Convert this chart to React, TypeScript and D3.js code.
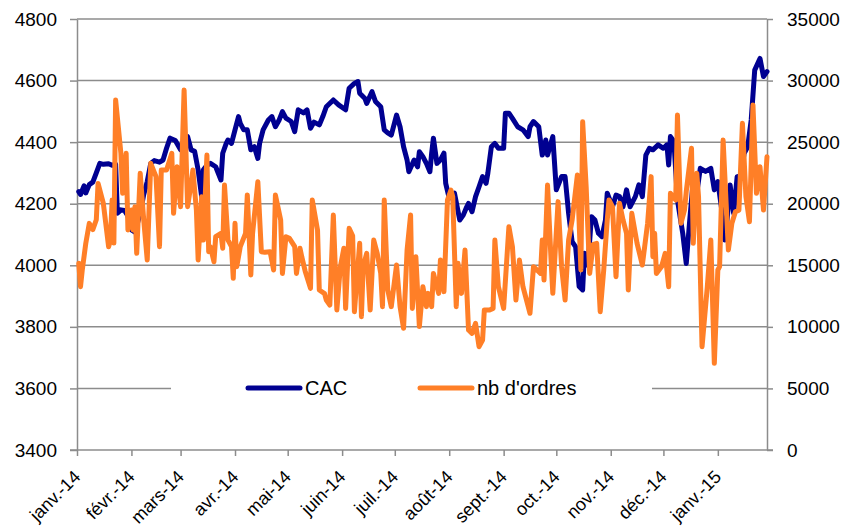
import { useEffect, useRef } from 'react';
import * as d3 from 'd3';

const WIDTH = 841;
const HEIGHT = 530;
const MARGIN = { top: 19, right: 74, bottom: 80, left: 77 };
const FONT = '"Liberation Sans", Arial, sans-serif';
const BLUE = '#000091';
const ORANGE = '#FF7F27';
const GRID = '#8c8c8c';

const monthNames = ['janv.', 'févr.', 'mars', 'avr.', 'mai', 'juin', 'juil.', 'août', 'sept.', 'oct.', 'nov.', 'déc.'];
const cacTicks = [3400, 3600, 3800, 4000, 4200, 4400, 4600, 4800];
const orderTicks = [0, 5000, 10000, 15000, 20000, 25000, 30000, 35000];
const dateRange = ['2014-01-01', '2015-01-29'];

// CAC 40 close
const cac: [string, number][] = [
  ['2014-01-02', 4239], ['2014-01-03', 4230], ['2014-01-05', 4258], ['2014-01-06', 4235], ['2014-01-08', 4262],
  ['2014-01-10', 4270], ['2014-01-12', 4300], ['2014-01-14', 4331], ['2014-01-16', 4328], ['2014-01-19', 4330],
  ['2014-01-21', 4325], ['2014-01-23', 4328], ['2014-01-24', 4169], ['2014-01-26', 4180], ['2014-01-28', 4178],
  ['2014-01-30', 4160], ['2014-02-01', 4115], ['2014-02-03', 4108], ['2014-02-06', 4169], ['2014-02-08', 4230],
  ['2014-02-10', 4272], ['2014-02-12', 4331], ['2014-02-14', 4340], ['2014-02-17', 4335], ['2014-02-19', 4342],
  ['2014-02-21', 4380], ['2014-02-23', 4413], ['2014-02-26', 4405], ['2014-03-01', 4375], ['2014-03-03', 4410],
  ['2014-03-05', 4418], ['2014-03-07', 4375], ['2014-03-09', 4370], ['2014-03-11', 4310], ['2014-03-13', 4223],
  ['2014-03-14', 4310], ['2014-03-16', 4325], ['2014-03-18', 4331], ['2014-03-21', 4320], ['2014-03-24', 4277],
  ['2014-03-25', 4364], ['2014-03-27', 4396], ['2014-03-28', 4407], ['2014-03-30', 4396], ['2014-04-01', 4440],
  ['2014-04-03', 4483], ['2014-04-04', 4461], ['2014-04-06', 4440], ['2014-04-08', 4440], ['2014-04-10', 4375],
  ['2014-04-12', 4385], ['2014-04-14', 4347], ['2014-04-15', 4396], ['2014-04-17', 4440], ['2014-04-20', 4472],
  ['2014-04-22', 4483], ['2014-04-24', 4450], ['2014-04-26', 4470], ['2014-04-28', 4499], ['2014-04-30', 4478],
  ['2014-05-03', 4467], ['2014-05-05', 4434], ['2014-05-07', 4505], ['2014-05-10', 4495], ['2014-05-12', 4505],
  ['2014-05-14', 4445], ['2014-05-16', 4465], ['2014-05-19', 4456], ['2014-05-21', 4483], ['2014-05-23', 4515],
  ['2014-05-27', 4537], ['2014-05-30', 4521], ['2014-06-03', 4505], ['2014-06-05', 4575], ['2014-06-08', 4591],
  ['2014-06-10', 4597], ['2014-06-11', 4559], ['2014-06-14', 4542], ['2014-06-15', 4526], ['2014-06-18', 4564],
  ['2014-06-20', 4532], ['2014-06-23', 4515], ['2014-06-25', 4440], ['2014-06-27', 4430], ['2014-06-29', 4423],
  ['2014-07-02', 4488], ['2014-07-04', 4450], ['2014-07-06', 4385], ['2014-07-08', 4342], ['2014-07-09', 4304],
  ['2014-07-12', 4342], ['2014-07-14', 4320], ['2014-07-15', 4369], ['2014-07-17', 4353], ['2014-07-19', 4331],
  ['2014-07-21', 4304], ['2014-07-22', 4364], ['2014-07-23', 4413], ['2014-07-25', 4331], ['2014-07-27', 4342],
  ['2014-07-29', 4364], ['2014-07-30', 4266], ['2014-08-01', 4218], ['2014-08-04', 4234], ['2014-08-07', 4147],
  ['2014-08-09', 4163], ['2014-08-11', 4190], ['2014-08-12', 4201], ['2014-08-14', 4174], ['2014-08-16', 4223],
  ['2014-08-18', 4255], ['2014-08-20', 4288], ['2014-08-22', 4266], ['2014-08-23', 4299], ['2014-08-25', 4385],
  ['2014-08-27', 4396], ['2014-08-29', 4380], ['2014-09-01', 4380], ['2014-09-02', 4494], ['2014-09-04', 4494],
  ['2014-09-06', 4477], ['2014-09-09', 4450], ['2014-09-12', 4440], ['2014-09-15', 4418], ['2014-09-16', 4450],
  ['2014-09-18', 4467], ['2014-09-21', 4450], ['2014-09-23', 4358], ['2014-09-25', 4407], ['2014-09-26', 4358],
  ['2014-09-29', 4418], ['2014-10-01', 4245], ['2014-10-04', 4288], ['2014-10-06', 4288], ['2014-10-08', 4169],
  ['2014-10-10', 4077], ['2014-10-12', 4060], ['2014-10-14', 3931], ['2014-10-16', 3920], ['2014-10-17', 4039],
  ['2014-10-19', 4000], ['2014-10-21', 4158], ['2014-10-23', 4147], ['2014-10-25', 4104], ['2014-10-27', 4093],
  ['2014-10-29', 4147], ['2014-10-30', 4234], ['2014-11-02', 4190], ['2014-11-04', 4228], ['2014-11-06', 4223],
  ['2014-11-08', 4190], ['2014-11-10', 4245], ['2014-11-12', 4190], ['2014-11-15', 4223], ['2014-11-17', 4261],
  ['2014-11-19', 4223], ['2014-11-21', 4358], ['2014-11-23', 4380], ['2014-11-25', 4375], ['2014-11-28', 4391],
  ['2014-12-01', 4380], ['2014-12-03', 4391], ['2014-12-04', 4326], ['2014-12-05', 4418], ['2014-12-07', 4402],
  ['2014-12-09', 4212], ['2014-12-12', 4104], ['2014-12-14', 4006], ['2014-12-16', 4147], ['2014-12-18', 4277],
  ['2014-12-20', 4234], ['2014-12-22', 4315], ['2014-12-25', 4305], ['2014-12-28', 4315], ['2014-12-30', 4245],
  ['2015-01-01', 4272], ['2015-01-03', 4190], ['2015-01-05', 4082], ['2015-01-06', 4131], ['2015-01-08', 4261],
  ['2015-01-10', 4169], ['2015-01-12', 4288], ['2015-01-14', 4290], ['2015-01-16', 4364], ['2015-01-18', 4385],
  ['2015-01-20', 4472], ['2015-01-22', 4634], ['2015-01-25', 4672], ['2015-01-27', 4613], ['2015-01-29', 4629],
];

// number of orders
const orders: [string, number][] = [
  ['2014-01-02', 15157], ['2014-01-03', 13263], ['2014-01-04', 14616], ['2014-01-06', 16780], ['2014-01-08', 18405],
  ['2014-01-10', 17900], ['2014-01-12', 18700], ['2014-01-13', 21650], ['2014-01-16', 20030], ['2014-01-19', 16510],
  ['2014-01-20', 17000], ['2014-01-21', 20300], ['2014-01-22', 16800], ['2014-01-23', 28420], ['2014-01-26', 24090],
  ['2014-01-27', 20840], ['2014-01-29', 24090], ['2014-01-30', 17860], ['2014-02-01', 19490], ['2014-02-02', 17860],
  ['2014-02-03', 19760], ['2014-02-04', 15970], ['2014-02-06', 22470], ['2014-02-08', 18680], ['2014-02-10', 15430],
  ['2014-02-12', 23280], ['2014-02-15', 22200], ['2014-02-17', 16510], ['2014-02-18', 22730], ['2014-02-21', 22730],
  ['2014-02-24', 24090], ['2014-02-25', 19220], ['2014-02-27', 23010], ['2014-03-01', 19760], ['2014-03-03', 29230],
  ['2014-03-05', 19760], ['2014-03-07', 21650], ['2014-03-08', 22740], ['2014-03-10', 19490], ['2014-03-11', 15430],
  ['2014-03-13', 20570], ['2014-03-14', 17050], ['2014-03-16', 23950], ['2014-03-17', 16100], ['2014-03-18', 16500],
  ['2014-03-20', 15290], ['2014-03-21', 17320], ['2014-03-24', 17590], ['2014-03-25', 16380], ['2014-03-26', 21520],
  ['2014-03-28', 17050], ['2014-03-30', 16510], ['2014-03-31', 13940], ['2014-04-01', 18410], ['2014-04-02', 14890],
  ['2014-04-04', 16510], ['2014-04-07', 17590], ['2014-04-08', 20710], ['2014-04-10', 14210], ['2014-04-11', 17590],
  ['2014-04-14', 21790], ['2014-04-16', 16100], ['2014-04-18', 16050], ['2014-04-21', 16100], ['2014-04-23', 14620],
  ['2014-04-24', 20710], ['2014-04-27', 18680], ['2014-04-28', 14340], ['2014-04-30', 17320], ['2014-05-02', 17190],
  ['2014-05-05', 16510], ['2014-05-06', 14340], ['2014-05-08', 16380], ['2014-05-09', 15700], ['2014-05-11', 14500],
  ['2014-05-14', 13130], ['2014-05-15', 20300], ['2014-05-18', 17860], ['2014-05-19', 12990], ['2014-05-22', 12700],
  ['2014-05-23', 12180], ['2014-05-25', 11770], ['2014-05-27', 19080], ['2014-05-29', 11370], ['2014-05-31', 14890],
  ['2014-06-02', 16380], ['2014-06-03', 11500], ['2014-06-05', 18000], ['2014-06-07', 17400], ['2014-06-08', 11230],
  ['2014-06-11', 16780], ['2014-06-12', 10830], ['2014-06-13', 14890], ['2014-06-15', 15970], ['2014-06-17', 11370],
  ['2014-06-19', 17050], ['2014-06-21', 15970], ['2014-06-23', 14340], ['2014-06-24', 11640], ['2014-06-25', 20300],
  ['2014-06-27', 12990], ['2014-06-29', 11640], ['2014-07-02', 15020], ['2014-07-04', 11640], ['2014-07-06', 9880],
  ['2014-07-08', 16240], ['2014-07-10', 19080], ['2014-07-11', 11500], ['2014-07-13', 15700], ['2014-07-15', 10020],
  ['2014-07-17', 13260], ['2014-07-19', 11640], ['2014-07-20', 12720], ['2014-07-22', 11640], ['2014-07-23', 14340],
  ['2014-07-26', 12720], ['2014-07-27', 15430], ['2014-07-29', 12860], ['2014-07-31', 20300], ['2014-08-02', 21110],
  ['2014-08-03', 20570], ['2014-08-05', 11640], ['2014-08-06', 15160], ['2014-08-08', 12720], ['2014-08-10', 16240],
  ['2014-08-12', 9740], ['2014-08-14', 9470], ['2014-08-16', 10290], ['2014-08-18', 8390], ['2014-08-20', 8930],
  ['2014-08-21', 11370], ['2014-08-24', 11370], ['2014-08-26', 11500], ['2014-08-27', 17050], ['2014-08-29', 13260],
  ['2014-09-01', 11500], ['2014-09-04', 18130], ['2014-09-06', 16510], ['2014-09-08', 12180], ['2014-09-10', 15430],
  ['2014-09-12', 13260], ['2014-09-15', 11640], ['2014-09-16', 11100], ['2014-09-18', 14890], ['2014-09-20', 14620],
  ['2014-09-22', 14340], ['2014-09-23', 17050], ['2014-09-24', 13800], ['2014-09-26', 21520], ['2014-09-28', 15430],
  ['2014-09-29', 12720], ['2014-10-02', 20170], ['2014-10-04', 14890], ['2014-10-06', 12180], ['2014-10-08', 17050],
  ['2014-10-10', 18680], ['2014-10-13', 22330], ['2014-10-15', 14620], ['2014-10-16', 26660], ['2014-10-18', 21380],
  ['2014-10-20', 14340], ['2014-10-22', 16700], ['2014-10-24', 16780], ['2014-10-26', 11230], ['2014-10-28', 14620],
  ['2014-10-30', 18680], ['2014-10-31', 20300], ['2014-11-02', 19760], ['2014-11-04', 14070], ['2014-11-06', 20030],
  ['2014-11-08', 18680], ['2014-11-10', 17590], ['2014-11-11', 12990], ['2014-11-13', 19220], ['2014-11-15', 17590],
  ['2014-11-16', 16780], ['2014-11-19', 15020], ['2014-11-22', 18410], ['2014-11-24', 22200], ['2014-11-25', 15700],
  ['2014-11-26', 17600], ['2014-11-27', 14340], ['2014-11-30', 14900], ['2014-12-02', 15970], ['2014-12-04', 13260],
  ['2014-12-05', 20840], ['2014-12-08', 20300], ['2014-12-09', 27200], ['2014-12-11', 18410], ['2014-12-13', 19490],
  ['2014-12-14', 20980], ['2014-12-17', 24500], ['2014-12-18', 16780], ['2014-12-20', 22470], ['2014-12-21', 20570],
  ['2014-12-23', 8390], ['2014-12-26', 13260], ['2014-12-28', 17050], ['2014-12-30', 7040], ['2015-01-01', 14620],
  ['2015-01-02', 14890], ['2015-01-04', 25170], ['2015-01-07', 16240], ['2015-01-09', 18410], ['2015-01-11', 19350],
  ['2015-01-13', 19480], ['2015-01-15', 26530], ['2015-01-17', 20570], ['2015-01-19', 18540], ['2015-01-21', 28020],
  ['2015-01-23', 20840], ['2015-01-25', 23010], ['2015-01-27', 19480], ['2015-01-29', 23820],
];

const legendItems = [
  { label: 'CAC', color: BLUE },
  { label: "nb d'ordres", color: ORANGE },
];

export default function App() {
  const svgRef = useRef<SVGSVGElement>(null);

  useEffect(() => {
    const svg = d3.select(svgRef.current);
    svg.selectAll('*').remove();

    const parse = d3.timeParse('%Y-%m-%d');
    const w = WIDTH - MARGIN.left - MARGIN.right;
    const h = HEIGHT - MARGIN.top - MARGIN.bottom;

    const x = d3.scaleTime().domain(dateRange.map(d => parse(d) as Date)).range([0, w]);
    const yL = d3.scaleLinear().domain([3400, 4800]).range([h, 0]);
    const yR = d3.scaleLinear().domain([0, 35000]).range([h, 0]);

    const g = svg.append('g').attr('transform', `translate(${MARGIN.left},${MARGIN.top})`);

    // gridlines
    g.append('g').selectAll('line').data(cacTicks.slice(1)).join('line')
      .attr('x1', 0).attr('x2', w)
      .attr('y1', d => yL(d)).attr('y2', d => yL(d))
      .attr('stroke', GRID).attr('stroke-width', 1.5);

    const styleAxis = (sel: any) => {
      sel.select('.domain').attr('stroke', GRID).attr('stroke-width', 1.5);
      sel.selectAll('.tick line').attr('stroke', GRID).attr('stroke-width', 1.5);
      sel.selectAll('text').attr('fill', '#000').style('font-family', FONT);
    };

    const left = g.append('g')
      .call(d3.axisLeft(yL).tickValues(cacTicks).tickSize(7).tickSizeOuter(0).tickPadding(13).tickFormat(d3.format('d')));
    styleAxis(left);
    left.selectAll('text').style('font-size', '19px');

    const right = g.append('g').attr('transform', `translate(${w},0)`)
      .call(d3.axisRight(yR).tickValues(orderTicks).tickSize(6).tickSizeOuter(0).tickPadding(14).tickFormat(d3.format('d')));
    styleAxis(right);
    right.selectAll('text').style('font-size', '19px');

    const bottom = g.append('g').attr('transform', `translate(0,${h})`)
      .call(d3.axisBottom(x).ticks(d3.timeMonth.every(1)).tickSize(6).tickSizeOuter(0)
        .tickFormat((d: any) => `${monthNames[d.getMonth()]}-${d3.timeFormat('%y')(d)}`));
    styleAxis(bottom);
    bottom.select('.domain').attr('d', `M-7,0H${w + 6}`);
    bottom.selectAll('text')
      .attr('y', 0).attr('dy', 0)
      .attr('text-anchor', 'end')
      .attr('transform', 'translate(4,28) rotate(-45)')
      .style('font-size', '18px');

    const line = (yScale: d3.ScaleLinear<number, number>) => d3.line<[string, number]>()
      .x(d => x(parse(d[0]) as Date))
      .y(d => yScale(d[1]));

    g.append('path').datum(cac)
      .attr('d', line(yL))
      .attr('fill', 'none').attr('stroke', BLUE).attr('stroke-width', 5)
      .attr('stroke-linejoin', 'round').attr('stroke-linecap', 'round');

    g.append('path').datum(orders)
      .attr('d', line(yR))
      .attr('fill', 'none').attr('stroke', ORANGE).attr('stroke-width', 5)
      .attr('stroke-linejoin', 'round').attr('stroke-linecap', 'round');

    // legend, sitting over the 3600 gridline
    const legend = svg.append('g').attr('transform', 'translate(171,388)');
    legend.append('rect').attr('x', 0).attr('y', -16).attr('width', 481).attr('height', 32).attr('fill', '#fff');
    legendItems.forEach((item, i) => {
      const row = legend.append('g').attr('transform', `translate(${77 + i * 172},0)`);
      row.append('line').attr('x1', 0).attr('x2', 52).attr('y1', 0).attr('y2', 0)
        .attr('stroke', item.color).attr('stroke-width', 5).attr('stroke-linecap', 'round');
      row.append('text').attr('x', 57).attr('dy', '0.35em')
        .style('font-family', FONT).style('font-size', '20px').attr('fill', '#000')
        .text(item.label);
    });
  }, []);

  return (
    <svg
      ref={svgRef}
      width={WIDTH}
      height={HEIGHT}
      style={{ position: 'absolute', left: 0, top: 0, background: '#fff' }}
    />
  );
}
